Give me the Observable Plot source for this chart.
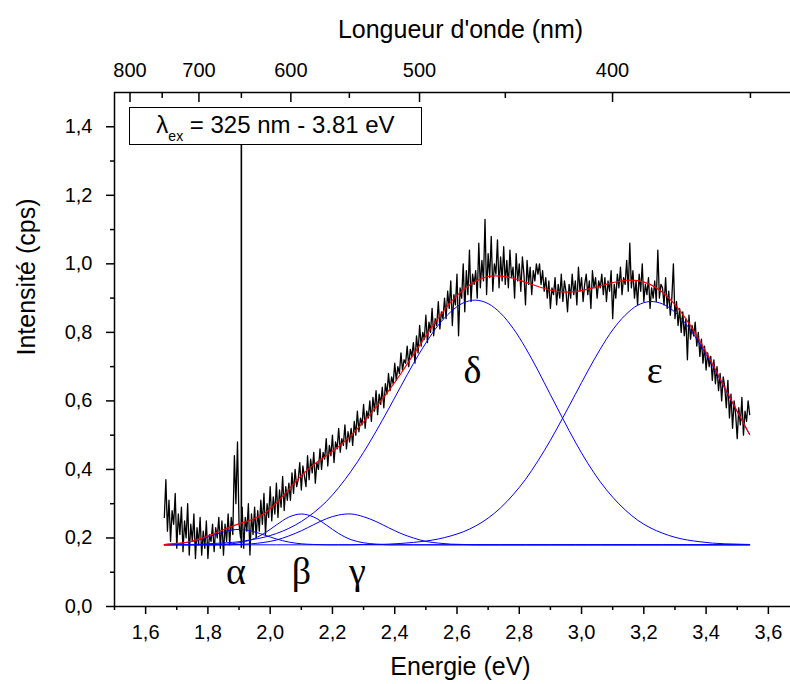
<!DOCTYPE html>
<html>
<head>
<meta charset="utf-8">
<script src="https://cdn.jsdelivr.net/npm/d3@7"></script>
<script src="https://cdn.jsdelivr.net/npm/@observablehq/plot@0.6"></script>
<style>
  body { margin: 0; background: #fff; }
  #wrap { position: relative; width: 790px; height: 684px; overflow: hidden; }
  #legend {
    position: absolute; left: 129px; top: 107px; width: 293px; height: 38px;
    border: 1px solid #000; box-sizing: border-box; background: #fff;
    font-family: "Liberation Sans", Arial, sans-serif; font-size: 24px; color: #000;
    text-align: center; line-height: 34px; white-space: pre;
  }
  #legend sub { font-size: 14px; vertical-align: -8px; line-height: 0; }
</style>
</head>
<body>
<div id="wrap"></div>
<script>
// ---- Measured spectrum (Intensité vs Energie), sampled every 0.005 eV from 1.660 eV ----
const specStart = 1.66;
const specStep = 0.005;
const intensity = [
  0.26, 0.37, 0.22, 0.31, 0.19, 0.28, 0.24, 0.33, 0.17, 0.27, 0.21, 0.29, 0.16, 0.25, 0.20, 0.30, 0.15, 0.24, 0.19, 0.27,
  0.14, 0.23, 0.18, 0.26, 0.15, 0.22, 0.17, 0.25, 0.14, 0.21, 0.19, 0.24, 0.16, 0.23, 0.20, 0.26, 0.17, 0.25, 0.15, 0.24,
  0.19, 0.27, 0.18, 0.26, 0.21, 0.44, 0.30, 0.48, 0.24, 0.20, 0.29, 0.17, 0.26, 0.22, 0.30, 0.15, 0.27, 0.21, 0.29, 0.20,
  0.28, 0.22, 0.31, 0.24, 0.33, 0.21, 0.30, 0.26, 0.35, 0.25, 0.32, 0.27, 0.36, 0.26, 0.34, 0.29, 0.38, 0.28, 0.35, 0.31,
  0.36, 0.31, 0.39, 0.33, 0.40, 0.35, 0.37, 0.42, 0.34, 0.41, 0.38, 0.35, 0.44, 0.37, 0.43, 0.39, 0.45, 0.36, 0.42, 0.40,
  0.46, 0.40, 0.45, 0.43, 0.49, 0.41, 0.47, 0.44, 0.50, 0.42, 0.48, 0.46, 0.52, 0.45, 0.49, 0.47, 0.53, 0.46, 0.51, 0.48,
  0.52, 0.47, 0.54, 0.50, 0.57, 0.51, 0.55, 0.53, 0.59, 0.52, 0.57, 0.55, 0.60, 0.54, 0.61, 0.57, 0.63, 0.56, 0.62, 0.59,
  0.64, 0.58, 0.65, 0.62, 0.68, 0.63, 0.67, 0.65, 0.71, 0.66, 0.70, 0.68, 0.74, 0.69, 0.72, 0.71, 0.76, 0.70, 0.75, 0.73,
  0.77, 0.71, 0.79, 0.74, 0.82, 0.76, 0.80, 0.78, 0.85, 0.77, 0.83, 0.80, 0.87, 0.79, 0.84, 0.82, 0.89, 0.81, 0.86, 0.84,
  0.90, 0.84, 0.92, 0.87, 0.95, 0.82, 0.91, 0.88, 0.97, 0.79, 0.93, 0.90, 1.00, 0.86, 0.98, 0.91, 1.04, 0.89, 0.97, 0.94,
  0.98, 0.90, 1.06, 0.93, 1.01, 0.95, 1.13, 0.91, 1.03, 0.96, 1.08, 0.92, 1.00, 0.97, 1.07, 0.93, 1.02, 0.95, 1.05, 0.94,
  1.01, 0.93, 1.04, 0.96, 0.99, 0.90, 1.03, 0.95, 1.00, 0.92, 1.02, 0.97, 0.88, 1.01, 0.94, 0.99, 0.91, 0.98, 0.95, 1.00,
  0.97, 1.00, 0.94, 0.98, 0.92, 0.96, 0.90, 0.95, 0.87, 0.93, 0.91, 0.96, 0.88, 0.94, 0.90, 0.97, 0.89, 0.95, 0.92, 0.86,
  0.94, 0.90, 0.97, 0.91, 0.95, 0.88, 0.99, 0.92, 0.96, 0.89, 0.94, 0.97, 0.91, 0.95, 0.87, 0.98, 0.93, 0.96, 0.90, 0.95,
  0.93, 0.97, 0.91, 0.96, 0.89, 0.95, 0.92, 0.98, 0.84, 0.94, 0.90, 0.97, 0.93, 0.99, 0.91, 0.96, 0.94, 1.01, 0.92, 1.06,
  0.93, 0.98, 0.90, 0.95, 0.88, 0.97, 0.92, 1.00, 0.89, 0.94, 0.91, 0.96, 0.87, 0.93, 0.90, 0.95, 0.89, 1.04, 0.90, 0.94,
  0.93, 0.88, 0.96, 0.87, 0.92, 0.85, 0.90, 1.00, 0.84, 0.89, 0.82, 0.87, 0.80, 0.86, 0.79, 0.84, 0.72, 0.85, 0.78, 0.82,
  0.79, 0.83, 0.76, 0.80, 0.73, 0.78, 0.71, 0.76, 0.69, 0.74, 0.70, 0.73, 0.66, 0.72, 0.65, 0.70, 0.63, 0.68, 0.60, 0.67,
  0.64, 0.58, 0.66, 0.55, 0.62, 0.52, 0.60, 0.56, 0.49, 0.58, 0.53, 0.61, 0.50, 0.57, 0.54, 0.60, 0.56
];

const fitStart = 1.66;
const fitStep = 0.04;
const alphaFit = [0.181,0.183,0.188,0.197,0.209,0.220,0.225,0.220,0.209,0.197,0.188,0.183,0.181,0.180,0.180,0.180,0.180,0.180,0.180,0.180,0.180,0.180,0.180,0.180,0.180,0.180,0.180,0.180,0.180,0.180,0.180,0.180,0.180,0.180,0.180,0.180,0.180,0.180,0.180,0.180,0.180,0.180,0.180,0.180,0.180,0.180,0.180,0.180];
const betaFit = [0.180,0.180,0.180,0.180,0.180,0.182,0.186,0.195,0.213,0.238,0.261,0.270,0.261,0.238,0.213,0.195,0.186,0.182,0.180,0.180,0.180,0.180,0.180,0.180,0.180,0.180,0.180,0.180,0.180,0.180,0.180,0.180,0.180,0.180,0.180,0.180,0.180,0.180,0.180,0.180,0.180,0.180,0.180,0.180,0.180,0.180,0.180,0.180];
const gammaFit = [0.180,0.180,0.180,0.180,0.180,0.180,0.181,0.183,0.187,0.194,0.206,0.221,0.239,0.256,0.267,0.270,0.262,0.248,0.230,0.213,0.200,0.190,0.185,0.182,0.181,0.180,0.180,0.180,0.180,0.180,0.180,0.180,0.180,0.180,0.180,0.180,0.180,0.180,0.180,0.180,0.180,0.180,0.180,0.180,0.180,0.180,0.180,0.180];
const deltaFit = [0.180,0.181,0.181,0.182,0.184,0.186,0.189,0.195,0.202,0.213,0.228,0.248,0.274,0.306,0.347,0.395,0.450,0.511,0.576,0.643,0.709,0.769,0.821,0.860,0.886,0.894,0.884,0.856,0.812,0.755,0.689,0.618,0.548,0.480,0.418,0.364,0.319,0.282,0.252,0.230,0.214,0.202,0.194,0.189,0.185,0.183,0.182,0.181];
const epsilonFit = [0.180,0.180,0.180,0.180,0.180,0.180,0.180,0.180,0.180,0.180,0.180,0.180,0.180,0.180,0.180,0.180,0.181,0.181,0.182,0.184,0.187,0.191,0.197,0.206,0.218,0.235,0.258,0.288,0.326,0.371,0.425,0.485,0.551,0.619,0.687,0.751,0.807,0.850,0.879,0.890,0.883,0.859,0.819,0.766,0.704,0.636,0.568,0.501];
const totalFit = [0.181,0.184,0.189,0.199,0.213,0.228,0.241,0.253,0.271,0.302,0.342,0.382,0.414,0.440,0.467,0.500,0.539,0.582,0.629,0.680,0.735,0.790,0.842,0.888,0.924,0.949,0.963,0.964,0.958,0.946,0.934,0.923,0.918,0.919,0.926,0.935,0.945,0.952,0.951,0.940,0.917,0.881,0.833,0.775,0.709,0.639,0.570,0.502];

// ---- Peak labels ----
const peakNames = ["α", "β", "γ", "δ", "ε"];
const peakLabelE = [1.89, 2.10, 2.28, 2.65, 3.235];
const peakLabelI = [0.10, 0.10, 0.10, 0.687, 0.687];

// ---- Excitation (325 nm, 2nd order seen at 650 nm) ----
const excitationNm = 650;

// ---- Ticks ----
const xTicks = [1.6, 1.8, 2.0, 2.2, 2.4, 2.6, 2.8, 3.0, 3.2, 3.4, 3.6];
const xMinorTicks = [1.5, 1.7, 1.9, 2.1, 2.3, 2.5, 2.7, 2.9, 3.1, 3.3, 3.5, 3.7];
const yTicks = [0.0, 0.2, 0.4, 0.6, 0.8, 1.0, 1.2, 1.4];
const yMinorTicks = [0.1, 0.3, 0.5, 0.7, 0.9, 1.1, 1.3];
const wlMajor = [800, 700, 600, 500, 400];
const wlMinor = [750, 650, 550, 450, 350];

const HC = 1239.84; // eV·nm
const toE = nm => HC / nm;
const fmt = d => d.toFixed(1).replace(".", ",");

const spectrum = intensity.map((v, i) => ({e: specStart + i * specStep, v}));
const comps = [["alpha", alphaFit], ["beta", betaFit], ["gamma", gammaFit], ["delta", deltaFit], ["epsilon", epsilonFit]];
const compRows = comps.flatMap(([name, arr]) => arr.map((v, i) => ({e: fitStart + i * fitStep, v, name})));
const totalRows = totalFit.map((v, i) => ({e: fitStart + i * fitStep, v}));
const labels = peakNames.map((t, i) => ({t, e: peakLabelE[i], v: peakLabelI[i]}));

const sans = "Liberation Sans, Arial, sans-serif";

const chart = Plot.plot({
  width: 790,
  height: 684,
  marginLeft: 114,
  marginRight: 0,
  marginTop: 92,
  marginBottom: 78,
  x: {domain: [1.5, 3.7], range: [114, 799], label: null},
  y: {domain: [0, 1.5], label: null},
  style: {fontFamily: sans, background: "#fff", color: "#000"},
  marks: [
    // data
    Plot.line(spectrum, {x: "e", y: "v", stroke: "#000", strokeWidth: 1.3}),
    Plot.ruleX([toE(excitationNm)], {y1: 0.17, y2: 1.345, stroke: "#000", strokeWidth: 1.6}),
    Plot.line(compRows, {x: "e", y: "v", z: "name", stroke: "#0000ff", strokeWidth: 1, curve: "catmull-rom"}),
    Plot.line(totalRows, {x: "e", y: "v", stroke: "#ff0000", strokeWidth: 1.2, curve: "catmull-rom"}),
    Plot.text(labels, {x: "e", y: "v", text: "t", fontFamily: "Liberation Serif, Times New Roman, serif", fontSize: 38, fill: "#000"}),
    // frame
    Plot.ruleY([0, 1.5], {stroke: "#000", strokeWidth: 1.5}),
    Plot.ruleX([1.5], {stroke: "#000", strokeWidth: 1.5}),
    // bottom axis
    Plot.axisX(xTicks, {anchor: "bottom", tickSize: 8, tickPadding: 10, fontSize: 20, tickFormat: fmt, strokeWidth: 1.5}),
    Plot.axisX(xMinorTicks, {anchor: "bottom", tickSize: 4, tickFormat: () => "", strokeWidth: 1.5}),
    // left axis
    Plot.axisY(yTicks, {anchor: "left", tickSize: 8, tickPadding: 14, fontSize: 20, tickFormat: fmt, strokeWidth: 1.5}),
    Plot.axisY(yMinorTicks, {anchor: "left", tickSize: 4, tickFormat: () => "", strokeWidth: 1.5}),
    // top axis (wavelength)
    Plot.axisX(wlMajor.map(toE), {anchor: "top", tickSize: 9, dy: 9, tickFormat: () => "", strokeWidth: 1.5}),
    Plot.axisX(wlMinor.map(toE), {anchor: "top", tickSize: 5, dy: 5, tickFormat: () => "", strokeWidth: 1.5}),
    Plot.axisX(wlMajor.map(toE), {anchor: "top", tickSize: 0, tickPadding: 16, fontSize: 20, tickFormat: d => Math.round(HC / d)}),
    // titles
    Plot.text(["Longueur d'onde (nm)"], {frameAnchor: "top", dx: 8, dy: -72, fontSize: 25, fill: "#000"}),
    Plot.text(["Energie (eV)"], {frameAnchor: "bottom", dx: 8, dy: 68, fontSize: 25, fill: "#000"}),
    Plot.text(["Intensité (cps)"], {frameAnchor: "left", rotate: -90, dx: -88, dy: 6, fontSize: 25, fill: "#000"})
  ]
});

const wrap = document.getElementById("wrap");
wrap.appendChild(chart);
const legend = document.createElement("div");
legend.id = "legend";
legend.innerHTML = "<span>λ<sub>ex</sub> = 325 nm - 3.81 eV</span>";
wrap.appendChild(legend);
</script>
</body>
</html>
